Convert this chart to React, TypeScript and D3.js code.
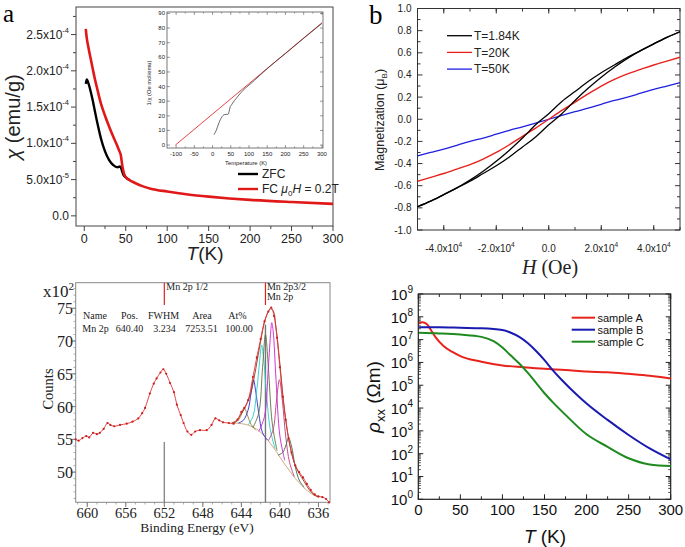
import React from 'react';
import * as d3 from 'd3';

const SANS = "'Liberation Sans', Arial, Helvetica, sans-serif";
const SERIF = "'Liberation Serif', 'Times New Roman', serif";

// ---- panel a: chi(T), in units of 1e-4 emu/g
const fcTemp = [1.8, 3, 5, 7.5, 10, 12.5, 15, 20, 25, 30, 35, 40, 42, 44, 46, 48, 50, 55, 60, 70, 80, 100, 125, 150, 175, 200, 250, 300];
const fcChi = [2.58, 2.45, 2.32, 2.18, 2.04, 1.9, 1.78, 1.55, 1.38, 1.23, 1.09, 0.96, 0.9, 0.84, 0.68, 0.58, 0.535, 0.49, 0.46, 0.41, 0.375, 0.335, 0.295, 0.265, 0.24, 0.22, 0.19, 0.165];
const zfcTemp = [1.84, 3, 4, 6, 8, 10, 12.5, 15, 17.5, 20, 25, 30, 35, 40, 43, 45, 47, 50, 55];
const zfcChi = [1.82, 1.88, 1.86, 1.79, 1.7, 1.6, 1.46, 1.32, 1.19, 1.07, 0.89, 0.77, 0.7, 0.67, 0.68, 0.64, 0.57, 0.53, 0.49];
const aXTicks = [0, 50, 100, 150, 200, 250, 300];
const aYTicks = [0, 0.5, 1, 1.5, 2, 2.5];
const aYMant = ['0.0', '5.0x10', '1.0x10', '1.5x10', '2.0x10', '2.5x10'];
const aYExp = ['', '-5', '-4', '-4', '-4', '-4'];

// inset: 1/chi
const invTemp = [4, 10, 18, 25, 32, 38, 42, 45, 48, 52, 60, 70, 83, 100, 115, 150, 200, 250, 300];
const invChi = [7.2, 10, 15.5, 19, 20.8, 21, 21, 22.5, 25.8, 27.5, 30.4, 33.5, 37.3, 41.0, 44.3, 52.3, 62.6, 73.0, 83.2];
const cwTemp = [-102, 300];
const cwInv = [0, 83.6];
const insetXTicks = [-100, -50, 0, 50, 100, 150, 200, 250, 300];
const insetYTicks = [0, 10, 20, 30, 40, 50, 60, 70, 80, 90];

// ---- panel b: M(H)
const hField = [-50000, -45000, -40000, -35000, -30000, -25000, -20000, -15000, -10000, -5000, 0, 5000, 10000, 15000, 20000, 25000, 30000, 35000, 40000, 45000, 50000];
const mDown184 = [-0.79, -0.74, -0.68, -0.62, -0.55, -0.47, -0.38, -0.28, -0.17, -0.05, 0.05, 0.16, 0.25, 0.34, 0.42, 0.49, 0.56, 0.62, 0.68, 0.74, 0.79];
const mUp184 = [-0.79, -0.74, -0.68, -0.62, -0.56, -0.49, -0.42, -0.34, -0.25, -0.16, -0.05, 0.05, 0.17, 0.28, 0.38, 0.47, 0.55, 0.62, 0.68, 0.74, 0.79];
const m20 = [-0.56, -0.525, -0.49, -0.45, -0.41, -0.36, -0.3, -0.23, -0.155, -0.08, 0, 0.08, 0.155, 0.23, 0.3, 0.36, 0.41, 0.45, 0.49, 0.525, 0.56];
const m50 = [-0.33, -0.3, -0.27, -0.235, -0.2, -0.17, -0.135, -0.1, -0.068, -0.034, 0, 0.034, 0.068, 0.1, 0.135, 0.17, 0.2, 0.235, 0.27, 0.3, 0.33];
const bSeries = ['T=1.84K', 'T=20K', 'T=50K'];
const bColors = ['#000000', '#e8211c', '#1f1fe0'];
const bXTicks = [-40000, -20000, 0, 20000, 40000];
const bXMant = ['-4.0x10', '-2.0x10', '0.0', '2.0x10', '4.0x10'];
const bXExp = ['4', '4', '', '4', '4'];
const bYTicks = [-1, -0.8, -0.6, -0.4, -0.2, 0, 0.2, 0.4, 0.6, 0.8, 1];

// ---- panel c: XPS Mn 2p, counts in 1e2
const xpsEnergy = [661.2, 660.9, 660.5, 660.1, 659.8, 659.4, 659.0, 658.7, 658.3, 657.9, 657.6, 657.2, 656.6, 655.9, 655.3, 654.7, 654.3, 654.0, 653.5, 653.1, 652.8, 652.4, 652.1, 651.8, 651.4, 651.0, 650.7, 650.3, 650.0, 649.6, 649.2, 648.8, 648.3, 647.6, 647.1, 646.7, 646.3, 645.9, 645.3, 644.8, 644.4, 644.0, 643.7, 643.3, 642.8, 642.4, 642.0, 641.6, 641.2, 640.9, 640.6, 640.3, 640.0, 639.7, 639.4, 639.1, 638.8, 638.4, 638.0, 637.6, 637.2, 636.8, 636.4, 636.0, 635.6, 635.2, 634.9];
const xpsCounts = [55.0, 54.8, 55.2, 55.5, 55.3, 56.0, 55.8, 56.0, 56.6, 57.5, 57.2, 57.0, 57.2, 57.4, 57.7, 58.2, 59.0, 59.8, 62.0, 63.5, 64.3, 65.2, 65.7, 65.0, 63.6, 62.2, 60.3, 58.7, 57.5, 56.2, 55.7, 56.2, 56.4, 56.4, 57.2, 58.2, 57.9, 57.6, 57.5, 57.4, 58.0, 59.2, 59.8, 61.0, 64.5, 67.5, 70.3, 73.0, 74.5, 75.1, 73.8, 70.5, 66.0, 61.5, 58.0, 55.2, 53.0, 51.0, 50.0, 49.2, 48.2, 47.3, 46.6, 46.3, 46.2, 45.9, 45.4];
const envE = [645.0, 644.5, 644.0, 643.5, 643.0, 642.5, 642.0, 641.5, 641.0, 640.7, 640.4, 640.0, 639.6, 639.2, 638.8, 638.4, 638.0, 637.5, 637.0, 636.5, 636.0];
const envC = [57.5, 57.9, 58.9, 60.2, 62.2, 65.8, 70.0, 73.4, 74.9, 74.6, 72.0, 66.5, 60.5, 56.0, 53.0, 51.0, 49.8, 48.6, 47.4, 46.6, 46.2];
const bgE = [645.0, 644.0, 643.0, 642.0, 641.5, 641.0, 640.5, 640.0, 639.5, 639.0, 638.5, 638.0, 637.5, 637.0, 636.5, 636.0];
const bgC = [57.5, 57.4, 57.0, 56.1, 55.3, 54.4, 53.4, 52.3, 51.2, 50.2, 49.2, 48.4, 47.6, 47.0, 46.5, 46.2];
const compE = [
  [645.0, 644.4, 644.0, 643.7, 643.4, 643.0, 642.5],
  [644.3, 643.8, 643.3, 643.0, 642.75, 642.5, 642.2, 641.8, 641.3],
  [643.3, 642.8, 642.4, 642.1, 641.9, 641.7, 641.4, 641.0, 640.5],
  [642.8, 642.2, 641.8, 641.5, 641.2, 640.8, 640.3],
  [642.2, 641.6, 641.2, 640.95, 640.85, 640.7, 640.4, 640.0, 639.5],
  [641.2, 640.7, 640.35, 640.05, 639.75, 639.4, 639.0, 638.5],
  [640.2, 639.7, 639.4, 639.1, 638.8, 638.4, 638.0, 637.5],
];
const compC = [
  [57.5, 57.8, 58.8, 59.8, 58.8, 57.3, 56.4],
  [57.5, 57.9, 59.5, 62.0, 64.1, 62.2, 59.0, 56.0, 54.9],
  [57.2, 58.5, 62.5, 67.0, 69.4, 67.5, 62.0, 56.5, 53.6],
  [56.8, 59.0, 66.0, 71.0, 66.0, 57.5, 53.3],
  [56.2, 58.5, 66.0, 71.5, 72.8, 71.5, 64.0, 55.5, 51.8],
  [54.8, 56.5, 61.0, 64.1, 61.0, 55.5, 51.5, 49.3],
  [52.6, 53.0, 54.0, 55.2, 54.0, 50.8, 48.8, 47.7],
];
const compColors = ['#8a8a2a', '#2b2bd0', '#26cccc', '#5f7040', '#cc22cc', '#b8407a', '#3f6a4c'];
const cXTicks = [660, 656, 652, 648, 644, 640, 636];
const cYTicks = [50, 55, 60, 65, 70, 75];
const tableHead = ['Name', 'Pos.', 'FWHM', 'Area', 'At%'];
const tableRow = ['Mn 2p', '640.40', '3.234', '7253.51', '100.00'];

// ---- panel d: rho_xx(T), log10 values
const tempA = [1, 5, 10, 15, 20, 30, 40, 50, 75, 100, 125, 150, 175, 200, 225, 250, 275, 300];
const logA = [7.72, 7.76, 7.68, 7.42, 7.13, 6.72, 6.47, 6.28, 6.03, 5.87, 5.79, 5.72, 5.67, 5.6, 5.57, 5.5, 5.42, 5.3];
const tempB = [1, 25, 50, 75, 100, 110, 120, 130, 140, 150, 160, 170, 180, 190, 200, 225, 250, 275, 300];
const logB = [7.54, 7.54, 7.52, 7.5, 7.42, 7.3, 7.12, 6.85, 6.5, 6.1, 5.65, 5.25, 4.88, 4.53, 4.2, 3.48, 2.82, 2.23, 1.75];
const tempC = [1, 25, 50, 75, 90, 100, 110, 120, 130, 140, 150, 160, 175, 200, 225, 250, 275, 300];
const logC = [7.3, 7.27, 7.22, 7.12, 6.92, 6.65, 6.3, 5.95, 5.55, 5.1, 4.65, 4.25, 3.7, 2.85, 2.3, 1.8, 1.53, 1.46];
const dSeries = ['sample A', 'sample B', 'sample C'];
const dColors = ['#e8231c', '#1a1ab0', '#1e8a1e'];
const dXTicks = [0, 50, 100, 150, 200, 250, 300];
const dDecades = [0, 1, 2, 3, 4, 5, 6, 7, 8, 9];

function linePath(xs: number[], ys: number[], sx: (v: number) => number, sy: (v: number) => number, curve: d3.CurveFactory = d3.curveMonotoneX) {
  const pts = xs.map((x, i) => [x, ys[i]] as [number, number]);
  return d3.line<[number, number]>().x(d => sx(d[0])).y(d => sy(d[1])).curve(curve)(pts) || '';
}

export default function App() {
  // scales
  const ax = d3.scaleLinear().domain([-10, 300]).range([76, 333]);
  const ay = d3.scaleLinear().domain([-0.14, 2.88]).range([226, 7]);
  const ix = d3.scaleLinear().domain([-125, 303]).range([167, 323]);
  const iy = d3.scaleLinear().domain([-2, 91]).range([148, 12]);
  const bx = d3.scaleLinear().domain([-50000, 50000]).range([417.5, 680]);
  const by = d3.scaleLinear().domain([-1, 1]).range([230, 8.5]);
  const cx = d3.scaleLinear().domain([661.2, 634.8]).range([75.7, 330]);
  const cy = d3.scaleLinear().domain([45.4, 78.9]).range([502.3, 282.7]);
  const dx = d3.scaleLinear().domain([0, 300]).range([418.3, 670.7]);
  const dyLog = d3.scaleLog().domain([1, 1e9]).range([499.3, 294]);
  const dy = (v: number) => dyLog(Math.pow(10, v));

  const aMinorX = d3.range(25, 300, 50);
  const aMinorY = d3.range(0.25, 2.8, 0.5);
  const bMinorX = d3.range(-50000, 50001, 10000);
  const bMinorY = d3.range(-0.9, 1, 0.2);
  const cMinorX = d3.range(635, 662, 1);
  const cMinorY = d3.range(46, 79, 1);
  const dMinorX = d3.range(25, 300, 50);
  const dMinorY: number[] = [];
  dDecades.slice(0, 9).forEach(p => { for (let k = 2; k < 10; k++) dMinorY.push(k * Math.pow(10, p)); });

  const dData = [[tempA, logA], [tempB, logB], [tempC, logC]];

  return (
    <svg width={685} height={547} style={{ position: 'absolute', left: 0, top: 0, background: '#fff' }}>
      <rect width={685} height={547} fill="#fff" />

      {/* ============ panel a ============ */}
      <g fontFamily={SANS} fill="#222">
        <text x={3} y={22} fontFamily={SERIF} fontSize={25} fill="#000">a</text>
        <rect x={76} y={7} width={257} height={219} fill="none" stroke="#444" strokeWidth={1} />
        {aYTicks.map(t => <line key={'ayt' + t} x1={71} x2={76} y1={ay(t)} y2={ay(t)} stroke="#444" />)}
        {aMinorY.map(t => <line key={'aym' + t} x1={73} x2={76} y1={ay(t)} y2={ay(t)} stroke="#444" />)}
        {aXTicks.map(t => <line key={'axt' + t} x1={ax(t)} x2={ax(t)} y1={226} y2={231} stroke="#444" />)}
        {aMinorX.map(t => <line key={'axm' + t} x1={ax(t)} x2={ax(t)} y1={226} y2={229} stroke="#444" />)}
        {aYTicks.map((t, i) => (
          <text key={'ayl' + t} x={69} y={ay(t) + 4} textAnchor="end" fontSize={12}>
            {aYMant[i]}
            {aYExp[i] && <tspan dy={-6} fontSize={7.5}>{aYExp[i]}</tspan>}
          </text>
        ))}
        {aXTicks.map(t => <text key={'axl' + t} x={ax(t)} y={243} textAnchor="middle" fontSize={12.5}>{t}</text>)}
        <text x={205} y={260} textAnchor="middle" fontSize={19}>
          <tspan fontStyle="italic">T</tspan>(K)
        </text>
        <text transform="translate(20,117) rotate(-90)" textAnchor="middle" fontSize={20}>
          <tspan fontStyle="italic">χ</tspan> (emu/g)
        </text>

        <path d={linePath(zfcTemp, zfcChi, ax, ay)} fill="none" stroke="#000" strokeWidth={2.4} />
        <path d={linePath(fcTemp, fcChi, ax, ay)} fill="none" stroke="#e01818" strokeWidth={2.6} />

        {/* legend */}
        <line x1={238} x2={258} y1={174} y2={174} stroke="#000" strokeWidth={2.4} />
        <text x={262} y={178} fontSize={12}>ZFC</text>
        <line x1={238} x2={258} y1={189} y2={189} stroke="#e01818" strokeWidth={2.4} />
        <text x={262} y={193} fontSize={12}>
          FC <tspan fontStyle="italic">μ</tspan><tspan dy={3} fontSize={8}>0</tspan><tspan dy={-3} fontStyle="italic">H</tspan> = 0.2T
        </text>

        {/* inset */}
        <rect x={167} y={12} width={156} height={136} fill="#fff" stroke="#555" strokeWidth={0.8} />
        {insetXTicks.map(t => (
          <g key={'ixt' + t}>
            <line x1={ix(t)} x2={ix(t)} y1={148} y2={145} stroke="#555" strokeWidth={0.6} />
            <line x1={ix(t)} x2={ix(t)} y1={12} y2={15} stroke="#555" strokeWidth={0.6} />
            <text x={ix(t)} y={156} textAnchor="middle" fontSize={6}>{t}</text>
          </g>
        ))}
        {insetXTicks.slice(0, -1).map(t => (
          <g key={'ixm' + t}>
            <line x1={ix(t + 25)} x2={ix(t + 25)} y1={148} y2={146.3} stroke="#555" strokeWidth={0.5} />
            <line x1={ix(t + 25)} x2={ix(t + 25)} y1={12} y2={13.7} stroke="#555" strokeWidth={0.5} />
          </g>
        ))}
        {insetYTicks.map(t => (
          <g key={'iyt' + t}>
            <line x1={167} x2={170} y1={iy(t)} y2={iy(t)} stroke="#555" strokeWidth={0.6} />
            <line x1={323} x2={320} y1={iy(t)} y2={iy(t)} stroke="#555" strokeWidth={0.6} />
            <text x={165} y={iy(t) + 2} textAnchor="end" fontSize={6}>{t}</text>
          </g>
        ))}
        <text x={246} y={165} textAnchor="middle" fontSize={5.8}>Temperature (K)</text>
        <text transform="translate(151,83) rotate(-90)" textAnchor="middle" fontSize={5.8}>1/χ (Oe mol/emu)</text>
        <path d={linePath(cwTemp, cwInv, ix, iy, d3.curveLinear)} fill="none" stroke="#e03030" strokeWidth={0.9} />
        <path d={linePath(invTemp, invChi, ix, iy)} fill="none" stroke="#222" strokeWidth={0.8} opacity={0.85} />
      </g>

      {/* ============ panel b ============ */}
      <g fontFamily={SANS} fill="#222">
        <text x={369} y={24} fontFamily={SERIF} fontSize={27} fill="#000">b</text>
        <rect x={417.5} y={8.5} width={262.5} height={221.5} fill="none" stroke="#333" strokeWidth={1} />
        {bXTicks.map(t => (
          <g key={'bxt' + t}>
            <line x1={bx(t)} x2={bx(t)} y1={230} y2={225} stroke="#333" />
            <line x1={bx(t)} x2={bx(t)} y1={8.5} y2={13.5} stroke="#333" />
          </g>
        ))}
        {bMinorX.map(t => (
          <g key={'bxm' + t}>
            <line x1={bx(t)} x2={bx(t)} y1={230} y2={227} stroke="#333" />
            <line x1={bx(t)} x2={bx(t)} y1={8.5} y2={11.5} stroke="#333" />
          </g>
        ))}
        {bYTicks.map(t => (
          <g key={'byt' + t}>
            <line x1={417.5} x2={422.5} y1={by(t)} y2={by(t)} stroke="#333" />
            <line x1={680} x2={675} y1={by(t)} y2={by(t)} stroke="#333" />
            <text x={411.5} y={by(t) + 3.5} textAnchor="end" fontSize={10}>{t.toFixed(1)}</text>
          </g>
        ))}
        {bMinorY.map(t => (
          <g key={'bym' + t}>
            <line x1={417.5} x2={420.5} y1={by(t)} y2={by(t)} stroke="#333" />
            <line x1={680} x2={677} y1={by(t)} y2={by(t)} stroke="#333" />
          </g>
        ))}
        {bXTicks.map((t, i) => (
          <text key={'bxl' + t} x={bx(t)} y={252} textAnchor="middle" fontSize={10}>
            {bXMant[i]}
            {bXExp[i] && <tspan dy={-5} fontSize={6.5}>{bXExp[i]}</tspan>}
          </text>
        ))}
        <text x={550} y={274} textAnchor="middle" fontFamily={SERIF} fontSize={20}>
          <tspan fontStyle="italic">H</tspan> (Oe)
        </text>
        <text transform="translate(384,120) rotate(-90)" textAnchor="middle" fontSize={12.5}>
          Magnetization (μ<tspan dy={3} fontSize={8}>B</tspan><tspan dy={-3}>)</tspan>
        </text>

        <path d={linePath(hField, m50, bx, by)} fill="none" stroke={bColors[2]} strokeWidth={1.3} />
        <path d={linePath(hField, m20, bx, by)} fill="none" stroke={bColors[1]} strokeWidth={1.4} />
        <path d={linePath(hField, mDown184, bx, by)} fill="none" stroke={bColors[0]} strokeWidth={1.3} />
        <path d={linePath(hField, mUp184, bx, by)} fill="none" stroke={bColors[0]} strokeWidth={1.3} />

        {bSeries.map((s, i) => (
          <g key={s}>
            <line x1={447} x2={472} y1={35.7 + i * 16.7} y2={35.7 + i * 16.7} stroke={bColors[i]} strokeWidth={1.3} />
            <text x={474} y={40 + i * 16.7} fontSize={12}>{s}</text>
          </g>
        ))}
      </g>

      {/* ============ panel c ============ */}
      <g fontFamily={SERIF} fill="#222">
        <rect x={75.7} y={282.7} width={254.3} height={219.6} fill="none" stroke="#888" strokeWidth={1} />
        {cYTicks.map(t => (
          <g key={'cyt' + t}>
            <line x1={71} x2={75.7} y1={cy(t)} y2={cy(t)} stroke="#777" />
            <text x={73} y={cy(t) + 6} textAnchor="end" fontSize={16}>{t}</text>
          </g>
        ))}
        {cMinorY.map(t => <line key={'cym' + t} x1={73.5} x2={75.7} y1={cy(t)} y2={cy(t)} stroke="#888" strokeWidth={0.7} />)}
        {cXTicks.map(t => (
          <g key={'cxt' + t}>
            <line x1={cx(t)} x2={cx(t)} y1={502.3} y2={507} stroke="#777" />
            <text x={cx(t)} y={518} textAnchor="middle" fontSize={14.5}>{t}</text>
          </g>
        ))}
        {cMinorX.map(t => <line key={'cxm' + t} x1={cx(t)} x2={cx(t)} y1={502.3} y2={504.5} stroke="#888" strokeWidth={0.7} />)}
        <text x={43} y={297} fontSize={17}>x10<tspan dy={-7} fontSize={11}>2</tspan></text>
        <text x={197} y={532} textAnchor="middle" fontSize={13.5}>Binding Energy (eV)</text>
        <text transform="translate(53,389) rotate(-90)" textAnchor="middle" fontSize={14.5}>Counts</text>

        {/* table */}
        {tableHead.map((s, i) => (
          <text key={'th' + s} x={[95, 129.5, 163.5, 202, 237.5][i]} y={319} textAnchor="middle" fontSize={10}>{s}</text>
        ))}
        {tableRow.map((s, i) => (
          <text key={'tr' + s} x={[95.5, 129.5, 164.5, 201.5, 239][i]} y={331.5} textAnchor="middle" fontSize={10}>{s}</text>
        ))}

        {/* peak markers */}
        <line x1={cx(652)} x2={cx(652)} y1={cy(54.6)} y2={502.3} stroke="#888" strokeWidth={1.4} />
        <line x1={cx(641.5)} x2={cx(641.5)} y1={cy(72.5)} y2={502.3} stroke="#777" strokeWidth={1.4} />
        <line x1={cx(652)} x2={cx(652)} y1={282.7} y2={305} stroke="#e02020" strokeWidth={1.2} />
        <line x1={cx(641.5)} x2={cx(641.5)} y1={282.7} y2={305} stroke="#e02020" strokeWidth={1.2} />
        <text x={cx(652) + 2} y={290} fontSize={10}>Mn 2p 1/2</text>
        <text x={cx(641.5) + 1.5} y={289.5} fontSize={10}>Mn 2p3/2</text>
        <text x={cx(641.5) + 1.5} y={299.5} fontSize={10}>Mn 2p</text>

        {/* fit */}
        <path d={linePath(bgE, bgC, cx, cy)} fill="none" stroke="#c8a078" strokeWidth={0.9} />
        {compE.map((es, i) => (
          <path key={'comp' + i} d={linePath(es, compC[i], cx, cy, d3.curveCatmullRom)} fill="none" stroke={compColors[i]} strokeWidth={0.9} />
        ))}
        <path d={linePath(envE, envC, cx, cy, d3.curveCatmullRom)} fill="none" stroke="#8b3a2a" strokeWidth={0.9} />
        <path d={linePath(xpsEnergy, xpsCounts, cx, cy, d3.curveCatmullRom)} fill="none" stroke="#e83030" strokeWidth={0.9} />
        {xpsEnergy.map((e, i) => (
          <circle key={'xd' + i} cx={cx(e)} cy={cy(xpsCounts[i])} r={1.1} fill="#c81e1e" />
        ))}
      </g>

      {/* ============ panel d ============ */}
      <g fontFamily={SANS} fill="#111">
        <rect x={418.3} y={294} width={252.4} height={205.3} fill="none" stroke="#222" strokeWidth={1.2} />
        {dXTicks.map(t => (
          <g key={'dxt' + t}>
            <line x1={dx(t)} x2={dx(t)} y1={499.3} y2={494.3} stroke="#222" />
            <line x1={dx(t)} x2={dx(t)} y1={294} y2={299} stroke="#222" />
            <text x={dx(t)} y={515} textAnchor="middle" fontSize={15}>{t}</text>
          </g>
        ))}
        {dMinorX.map(t => (
          <g key={'dxm' + t}>
            <line x1={dx(t)} x2={dx(t)} y1={499.3} y2={496.3} stroke="#222" />
            <line x1={dx(t)} x2={dx(t)} y1={294} y2={297} stroke="#222" />
          </g>
        ))}
        {dDecades.map(p => (
          <g key={'dyt' + p}>
            <line x1={418.3} x2={423.3} y1={dy(p)} y2={dy(p)} stroke="#222" />
            <line x1={670.7} x2={665.7} y1={dy(p)} y2={dy(p)} stroke="#222" />
            <text x={413} y={dy(p) + 6} textAnchor="end" fontSize={15}>
              10<tspan dy={-7} fontSize={10}>{p}</tspan>
            </text>
          </g>
        ))}
        {dMinorY.map((v, i) => (
          <g key={'dym' + i}>
            <line x1={418.3} x2={420.8} y1={dyLog(v)} y2={dyLog(v)} stroke="#222" strokeWidth={0.8} />
            <line x1={670.7} x2={668.2} y1={dyLog(v)} y2={dyLog(v)} stroke="#222" strokeWidth={0.8} />
          </g>
        ))}
        <text x={545} y={543} textAnchor="middle" fontSize={19}>
          <tspan fontStyle="italic">T</tspan> (K)
        </text>
        <text transform="translate(380,397) rotate(-90)" textAnchor="middle" fontSize={19}>
          <tspan fontStyle="italic">ρ</tspan><tspan dy={5} fontSize={13}>xx</tspan><tspan dy={-5}> (Ωm)</tspan>
        </text>
        {dData.map(([ts, vs], i) => (
          <path key={'dl' + i} d={linePath(ts, vs, dx, dy)} fill="none" stroke={dColors[i]} strokeWidth={2} />
        ))}
        {dSeries.map((s, i) => (
          <g key={s}>
            <line x1={571.7} x2={595} y1={317.7 + i * 12} y2={317.7 + i * 12} stroke={dColors[i]} strokeWidth={2} />
            <text x={597.5} y={321.5 + i * 12} fontSize={11}>{s}</text>
          </g>
        ))}
      </g>
    </svg>
  );
}
